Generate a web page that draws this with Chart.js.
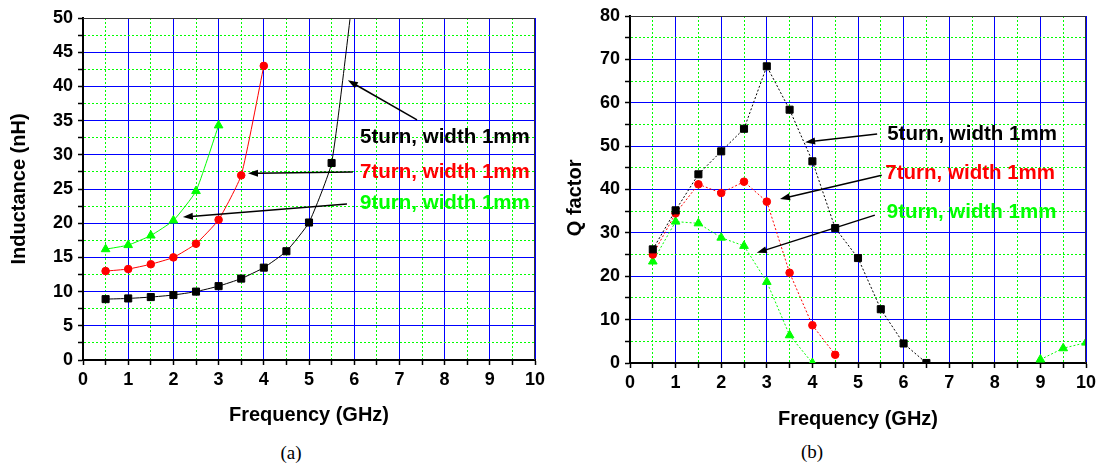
<!DOCTYPE html>
<html>
<head>
<meta charset="utf-8">
<style>
  body { margin: 0; background: #fff; width: 1101px; height: 466px; position: relative; overflow: hidden; }
  canvas { position: absolute; top: 0; }
  #chartA { left: 0; }
  #chartB { left: 550px; }
  .cap { position: absolute; font-family: "Liberation Serif", "Times New Roman", serif; font-size: 19px; transform: translate(-50%, -50%); }
</style>
</head>
<body>
<canvas id="chartA" width="550" height="440"></canvas>
<canvas id="chartB" width="551" height="440"></canvas>
<div class="cap" style="left:291px;top:453px">(a)</div>
<div class="cap" style="left:812px;top:452px">(b)</div>

<script src="https://cdn.jsdelivr.net/npm/chart.js"></script>
<script>
    // (a) inductance vs frequency
    const freqL5 = [0.5, 1, 1.5, 2, 2.5, 3, 3.5, 4, 4.5, 5, 5.5, 6]
    const ind5 = [8.9, 9.0, 9.2, 9.5, 10.0, 10.8, 11.9, 13.5, 15.9, 20.1, 28.8, 55]
    const freqL7 = [0.5, 1, 1.5, 2, 2.5, 3, 3.5, 4]
    const ind7 = [13.0, 13.3, 14.0, 15.0, 17.0, 20.5, 27.0, 43.0]
    const freqL9 = [0.5, 1, 1.5, 2, 2.5, 3]
    const ind9 = [16.2, 16.8, 18.2, 20.4, 24.7, 34.3]

    // (b) Q factor vs frequency
    const freqQ = [0.5, 1, 1.5, 2, 2.5, 3, 3.5, 4, 4.5, 5, 5.5, 6, 6.5, 7, 7.5, 8, 8.5, 9, 9.5, 10]
    const q5 = [26.2, 35.2, 43.5, 48.8, 54.0, 68.4, 58.4, 46.5, 31.1, 24.2, 12.4, 4.5, 0]
    const q7 = [25.0, 34.5, 41.2, 39.2, 41.8, 37.2, 20.8, 8.7, 1.9]
    const q9 = [23.4, 32.6, 32.2, 28.9, 27.0, 18.7, 6.4, 0,
                null, null, null, null, null, null, null, null, null, 0.8, 3.4, 4.7]

    const seriesNames = ['5turn, width 1mm', '7turn, width 1mm', '9turn, width 1mm']
    const seriesColors = ['#000000', '#ff0000', '#00ff00']

    // annotation placement, in data units of each chart
    const notesA = [
        {x: 6.13, y: 32.6, tail: [7.39, 35.1], head: [5.86, 40.9]},
        {x: 6.13, y: 27.4, tail: [5.97, 27.5], head: [3.65, 27.3]},
        {x: 6.13, y: 22.9, tail: [5.84, 22.8], head: [2.21, 20.9]}
    ]
    const notesB = [
        {x: 5.64, y: 52.7, tail: [5.42, 52.8], head: [3.84, 50.9]},
        {x: 5.60, y: 43.7, tail: [5.52, 43.3], head: [3.29, 37.8]},
        {x: 5.63, y: 34.7, tail: [5.37, 34.1], head: [2.78, 25.4]}
    ]

    Chart.defaults.font.family = '"Liberation Sans", Arial, sans-serif'
    Chart.defaults.color = '#000'

    const BLUE = '#0000ff'
    const GREEN = '#00ff00'

    function isMajor(v, step) {
        const r = v / step
        return Math.abs(r - Math.round(r)) < 1e-6
    }

    function series(i, xs, ys, style, radius, dash, clip, tension) {
        return {
            label: seriesNames[i],
            data: xs.map((x, k) => ({x, y: ys[k] === undefined ? null : ys[k]})),
            borderColor: seriesColors[i],
            backgroundColor: seriesColors[i],
            pointBackgroundColor: seriesColors[i],
            pointBorderColor: seriesColors[i],
            pointStyle: style,
            pointRadius: radius,
            pointBorderWidth: 1,
            borderWidth: 1,
            borderDash: dash,
            tension: tension,
            spanGaps: false,
            clip: clip
        }
    }

    function axis(opts) {
        const tickFont = {size: 18, weight: 'bold'}
        const titleFont = {size: 20, weight: 'bold'}
        const gridFor = major => ({
            color: ctx => ctx.tick && isMajor(ctx.tick.value, major) ? BLUE : GREEN,
            lineWidth: 1,
            tickColor: '#000',
            tickLength: 5,
            tickWidth: 1.5
        })
        const borderFor = major => ({
            color: '#000',
            width: 2,
            dash: ctx => ctx.tick && !isMajor(ctx.tick.value, major) ? [2, 2] : []
        })
        return {
            x: {
                type: 'linear', min: 0, max: 10,
                ticks: {stepSize: 0.5, autoSkip: false, maxRotation: 0, padding: 4, font: tickFont,
                    callback: v => isMajor(v, 1) ? String(v) : ''},
                grid: gridFor(1),
                border: borderFor(1),
                title: {display: true, text: 'Frequency (GHz)', font: titleFont,
                    padding: {top: 0, bottom: opts.xTitlePad}},
                afterFit: s => { s.height = opts.xHeight }
            },
            y: {
                type: 'linear', min: 0, max: opts.yMax,
                ticks: {stepSize: opts.yStep, autoSkip: false, padding: 5, font: tickFont,
                    callback: v => isMajor(v, opts.yMajor) ? String(v) : ''},
                grid: gridFor(opts.yMajor),
                border: borderFor(opts.yMajor),
                title: {display: true, text: opts.yTitle, font: titleFont,
                    padding: {top: opts.yTitlePad, bottom: 0}},
                afterFit: s => { s.width = opts.yWidth }
            }
        }
    }

    function notesPlugin(notes) {
        return {
            id: 'notes',
            afterDatasetsDraw(chart) {
                const {ctx, chartArea: a, scales: {x, y}} = chart
                ctx.save()
                // frame on top and right
                ctx.strokeStyle = '#333'
                ctx.lineWidth = 1
                ctx.beginPath()
                ctx.moveTo(a.left, a.top + 0.5)
                ctx.lineTo(a.right - 0.5, a.top + 0.5)
                ctx.lineTo(a.right - 0.5, a.bottom)
                ctx.stroke()

                notes.forEach((n, i) => {
                    const tx = x.getPixelForValue(n.tail[0]), ty = y.getPixelForValue(n.tail[1])
                    const hx = x.getPixelForValue(n.head[0]), hy = y.getPixelForValue(n.head[1])
                    const ang = Math.atan2(hy - ty, hx - tx)
                    ctx.strokeStyle = '#000'
                    ctx.fillStyle = '#000'
                    ctx.lineWidth = 1.5
                    ctx.beginPath()
                    ctx.moveTo(tx, ty)
                    ctx.lineTo(hx - 8 * Math.cos(ang), hy - 8 * Math.sin(ang))
                    ctx.stroke()
                    ctx.beginPath()
                    ctx.moveTo(hx, hy)
                    ctx.lineTo(hx - 10 * Math.cos(ang) + 3.5 * Math.sin(ang), hy - 10 * Math.sin(ang) - 3.5 * Math.cos(ang))
                    ctx.lineTo(hx - 10 * Math.cos(ang) - 3.5 * Math.sin(ang), hy - 10 * Math.sin(ang) + 3.5 * Math.cos(ang))
                    ctx.closePath()
                    ctx.fill()

                    ctx.font = 'bold 20.5px "Liberation Sans", Arial, sans-serif'
                    ctx.textAlign = 'left'
                    ctx.textBaseline = 'middle'
                    ctx.fillStyle = seriesColors[i]
                    ctx.fillText(seriesNames[i], x.getPixelForValue(n.x), y.getPixelForValue(n.y))
                })
                ctx.restore()
            }
        }
    }

    const baseOptions = {
        responsive: false,
        animation: false,
        devicePixelRatio: 1,
        plugins: {legend: {display: false}, tooltip: {enabled: false}}
    }

    const clipA = {left: 10, right: 10, top: 0, bottom: 10}
    new Chart(document.getElementById('chartA'), {
        type: 'line',
        data: {
            datasets: [
                series(0, freqL5, ind5, 'rect', 5, [], clipA, 0.15),
                series(1, freqL7, ind7, 'circle', 3.8, [], clipA, 0.15),
                series(2, freqL9, ind9, 'triangle', 5, [], clipA, 0.15)
            ]
        },
        options: {
            ...baseOptions,
            layout: {padding: {top: 18, right: 15, left: 0, bottom: 0}},
            scales: axis({yMax: 50, yStep: 2.5, yMajor: 5, yTitle: 'Inductance (nH)',
                yWidth: 83, xHeight: 80, xTitlePad: 13, yTitlePad: 7})
        },
        plugins: [notesPlugin(notesA)]
    });

    const clipB = {left: 10, right: 0, top: 10, bottom: 0}
    new Chart(document.getElementById('chartB'), {
        type: 'line',
        data: {
            datasets: [
                series(0, freqQ, q5, 'rect', 5, [2, 2], clipB, 0),
                series(1, freqQ, q7, 'circle', 3.8, [2, 2], clipB, 0),
                series(2, freqQ, q9, 'triangle', 5, [2, 2], clipB, 0)
            ]
        },
        options: {
            ...baseOptions,
            layout: {padding: {top: 16, right: 15, left: 0, bottom: 0}},
            scales: axis({yMax: 80, yStep: 5, yMajor: 10, yTitle: 'Q factor   ',
                yWidth: 80, xHeight: 77, xTitlePad: 9, yTitlePad: 13})
        },
        plugins: [notesPlugin(notesB)]
    });
</script>
</body>
</html>
